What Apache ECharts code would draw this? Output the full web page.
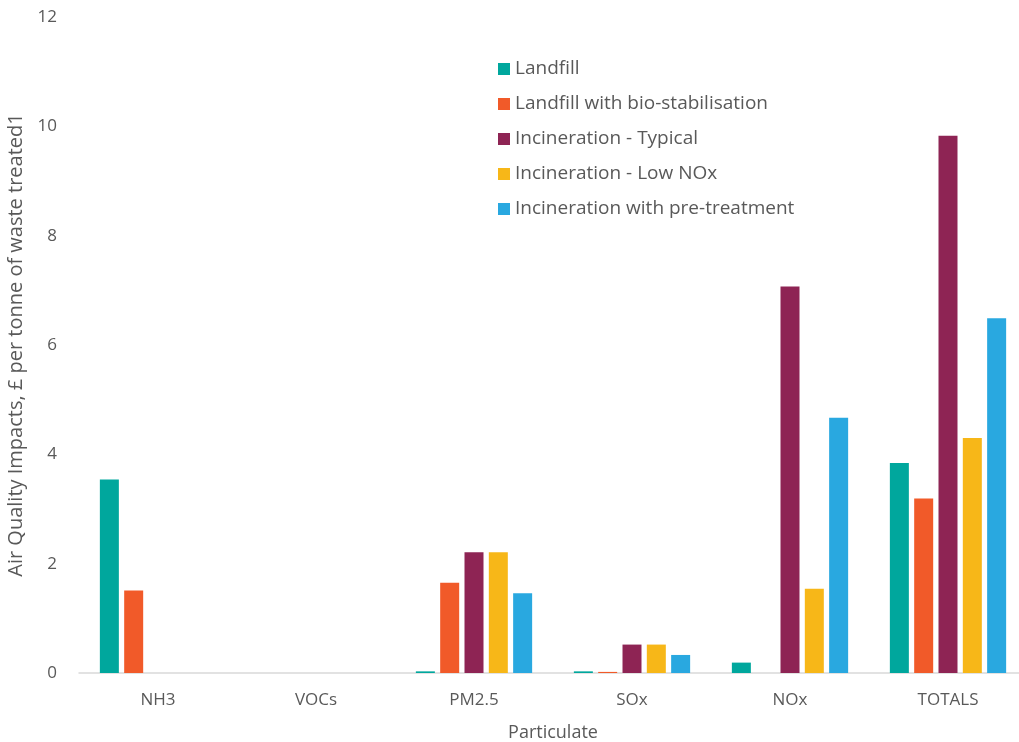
<!DOCTYPE html>
<html>
<head>
<meta charset="utf-8">
<script src="https://cdn.jsdelivr.net/npm/echarts@6/dist/echarts.min.js"></script>
<style>
  html, body { margin: 0; padding: 0; background: #fff; overflow: hidden; }
  #chart { width: 1019px; height: 742px; }
</style>
</head>
<body>
<div id="chart"></div>
<script>
// Categories along the x axis
const categories = ['NH3', 'VOCs', 'PM2.5', 'SOx', 'NOx', 'TOTALS'];

// Air quality impact (£ per tonne of waste treated) by scenario
const landfill        = [3.54, 0, 0.03, 0.03, 0.19, 3.84];
const landfillBio     = [1.51, 0, 1.65, 0.02, 0,    3.19];
const incinTypical    = [0,    0, 2.21, 0.52, 7.07, 9.83];
const incinLowNOx     = [0,    0, 2.21, 0.52, 1.54, 4.30];
const incinPretreat   = [0,    0, 1.46, 0.33, 4.67, 6.49];

const seriesNames = [
  'Landfill',
  'Landfill with bio-stabilisation',
  'Incineration - Typical',
  'Incineration - Low NOx',
  'Incineration with pre-treatment'
];
const seriesData = [landfill, landfillBio, incinTypical, incinLowNOx, incinPretreat];
const colors = ['#00A79D', '#F15A29', '#8E2454', '#F7B718', '#29A8E0'];

const yTicks = { min: 0, max: 12, interval: 2 };

const font = '"Open Sans", Lato, sans-serif';
const textColor = '#595959';

const chart = echarts.init(document.getElementById('chart'), null, { renderer: 'canvas' });

chart.setOption({
  animation: false,
  color: colors,
  textStyle: { fontFamily: font },
  grid: {
    left: 79, top: 17, width: 948, height: 656,
    containLabel: false,
    outerBoundsMode: 'none'
  },
  legend: {
    orient: 'vertical',
    left: 493,
    top: 51,
    icon: 'rect',
    itemWidth: 12,
    itemHeight: 12,
    itemGap: 9,
    textStyle: { fontFamily: font, fontSize: 19, lineHeight: 26, color: textColor },
    data: seriesNames
  },
  xAxis: {
    type: 'category',
    data: categories,
    name: 'Particulate',
    nameLocation: 'middle',
    nameGap: 51,
    nameTextStyle: { fontFamily: font, fontSize: 18, color: textColor },
    axisLine: { show: true, lineStyle: { color: '#D9D9D9', width: 1.5 } },
    axisTick: { show: false },
    axisLabel: { fontFamily: font, fontSize: 17, color: textColor, margin: 19 }
  },
  yAxis: {
    type: 'value',
    min: yTicks.min,
    max: yTicks.max,
    interval: yTicks.interval,
    name: 'Air Quality Impacts, £ per tonne of waste treated1',
    nameLocation: 'middle',
    nameGap: 48,
    nameRotate: 90,
    nameTextStyle: { fontFamily: font, fontSize: 20, color: textColor },
    axisLine: { show: false },
    axisTick: { show: false },
    splitLine: { show: false },
    axisLabel: { fontFamily: font, fontSize: 17, color: textColor, margin: 22 }
  },
  series: seriesNames.map((name, i) => ({
    name: name,
    type: 'bar',
    data: seriesData[i],
    barWidth: 19,
    barGap: '28%',
    itemStyle: { color: colors[i] }
  }))
});
</script>
</body>
</html>
